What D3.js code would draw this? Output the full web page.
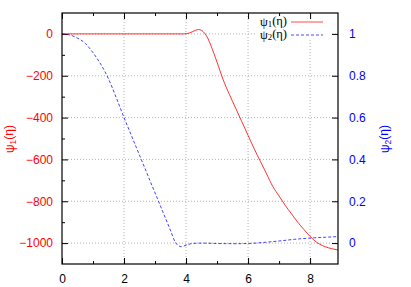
<!DOCTYPE html>
<html>
<head>
<meta charset="utf-8">
<script src="https://cdn.jsdelivr.net/npm/d3@7"></script>
<style>
  body { margin: 0; background: #fff; }
</style>
</head>
<body>
<div id="chart"></div>
<script>
var width = 411;
var height = 287;

// data
var eta1 = [0, 3.9, 4.0, 4.1, 4.2, 4.3, 4.4, 4.5, 4.6, 4.7, 4.8, 5.0, 5.2, 5.4, 5.6, 5.8, 6.0, 6.2, 6.4, 6.6, 6.8, 7.0, 7.2, 7.4, 7.6, 7.8, 8.0, 8.2, 8.4, 8.6, 8.8, 8.9];
var psi1 = [0, 0, 1, 4, 10, 17, 21, 17, 3, -20, -55, -135, -220, -290, -355, -420, -485, -550, -610, -670, -730, -775, -820, -860, -900, -935, -968, -995, -1012, -1023, -1030, -1033];
var eta2 = [0, 0.25, 0.5, 0.75, 1.0, 1.25, 1.5, 1.75, 2.0, 2.25, 2.5, 2.75, 3.0, 3.25, 3.5, 3.65, 3.75, 3.85, 4.0, 4.2, 4.5, 5.0, 5.5, 6.0, 6.5, 7.0, 7.5, 8.0, 8.5, 8.9];
var psi2 = [1, 0.995, 0.98, 0.955, 0.91, 0.855, 0.785, 0.695, 0.60, 0.51, 0.42, 0.33, 0.24, 0.15, 0.06, 0.005, -0.012, -0.017, -0.01, -0.002, 0, -0.002, -0.003, -0.002, 0.003, 0.01, 0.018, 0.024, 0.028, 0.031];
var xTicks = [0, 2, 4, 6, 8];
var xMinor = [1, 3, 5, 7];
var yTicks = [0, -200, -400, -600, -800, -1000];
var yMinor = [-100, -300, -500, -700, -900];
var y2Ticks = [0, 0.2, 0.4, 0.6, 0.8, 1];

var margin = {left: 62, top: 13, right: 73, bottom: 23};
var w = width - margin.left - margin.right;
var h = height - margin.top - margin.bottom;

var svg = d3.select("#chart").append("svg")
    .attr("width", width)
    .attr("height", height)
    .attr("font-family", "'Liberation Sans', Arial, sans-serif")
    .attr("font-size", "12");

var g = svg.append("g").attr("transform", "translate(" + margin.left + "," + margin.top + ")");

var x = d3.scaleLinear().domain([0, 8.9]).range([0, w]);
var y = d3.scaleLinear().domain([-1100, 100]).range([h, 0]);
var y2 = d3.scaleLinear().domain([-0.1, 1.1]).range([h, 0]);

// grid
g.selectAll(".gx").data(xTicks.slice(1)).enter().append("line")
    .attr("x1", d => x(d)).attr("x2", d => x(d))
    .attr("y1", 0).attr("y2", h)
    .attr("stroke", "#a0a0a0").attr("stroke-width", 0.8)
    .attr("stroke-dasharray", "1,2");
g.selectAll(".gy").data(yTicks).enter().append("line")
    .attr("x1", 0).attr("x2", w)
    .attr("y1", d => y(d)).attr("y2", d => y(d))
    .attr("stroke", "#a0a0a0").attr("stroke-width", 0.8)
    .attr("stroke-dasharray", "1,2");

// legend box hides the grid behind it
g.append("rect").attr("x", 194).attr("y", 1).attr("width", 76).attr("height", 26).attr("fill", "#fff");

function styleAxis(sel, color) {
  sel.select(".domain").remove();
  sel.selectAll(".tick line").attr("stroke", "#000");
  sel.selectAll(".tick text").attr("fill", color)
    .attr("font-family", "'Liberation Sans', Arial, sans-serif").attr("font-size", 12);
}

// bottom axis
g.append("g").attr("transform", "translate(0," + h + ")")
    .call(d3.axisBottom(x).tickValues(xTicks).tickSize(-6).tickPadding(10).tickFormat(d3.format("d")))
    .call(s => styleAxis(s, "#000"));
g.append("g").attr("transform", "translate(0," + h + ")")
    .call(d3.axisBottom(x).tickValues(xMinor).tickSize(-3).tickFormat(""))
    .call(s => styleAxis(s, "#000"));
// top mirror
g.append("g")
    .call(d3.axisTop(x).tickValues(xTicks).tickSize(-6).tickFormat(""))
    .call(s => styleAxis(s, "#000"));
g.append("g")
    .call(d3.axisTop(x).tickValues(xMinor).tickSize(-3).tickFormat(""))
    .call(s => styleAxis(s, "#000"));

// left axis
g.append("g")
    .call(d3.axisLeft(y).tickValues(yTicks).tickSize(-6).tickPadding(9).tickFormat(d3.format("d")))
    .call(s => styleAxis(s, "#ff0000"));
g.append("g")
    .call(d3.axisLeft(y).tickValues(yMinor).tickSize(-3).tickFormat(""))
    .call(s => styleAxis(s, "#ff0000"));

// right axis
g.append("g").attr("transform", "translate(" + w + ",0)")
    .call(d3.axisRight(y2).tickValues(y2Ticks).tickSize(-6).tickPadding(11).tickFormat(d3.format("~g")))
    .call(s => styleAxis(s, "#0000ff"));

// curves
var line1 = d3.line().x((d, i) => x(eta1[i])).y(d => y(d)).curve(d3.curveMonotoneX);
var line2 = d3.line().x((d, i) => x(eta2[i])).y(d => y2(d)).curve(d3.curveMonotoneX);

g.append("path").datum(psi2).attr("d", line2)
    .attr("fill", "none").attr("stroke", "#0000ff").attr("stroke-width", 1)
    .attr("stroke-dasharray", "3,2").attr("opacity", 0.75);
g.append("path").datum(psi1).attr("d", line1)
    .attr("fill", "none").attr("stroke", "#ff0000").attr("stroke-width", 1).attr("opacity", 0.8);

// border
g.append("rect").attr("width", w).attr("height", h)
    .attr("fill", "none").attr("stroke", "#000").attr("stroke-width", 1.2);

// label helper: psi with subscript
function psiLabel(sel, sub) {
  sel.append("tspan").text("\u03c8");
  sel.append("tspan").attr("font-size", "0.7em").attr("dy", "0.2em").text(sub);
  sel.append("tspan").attr("dy", "-0.2em").text("(\u03b7)");
}

// legend
var legend = svg.append("g").attr("font-family", "'Liberation Serif', 'Times New Roman', serif").attr("font-size", 12.5);
[{sub: "1", color: "#ff0000", dash: null, y: 22},
 {sub: "2", color: "#0000ff", dash: "3,2", y: 35}].forEach(function(d) {
  legend.append("text").attr("x", 287).attr("y", d.y + 3.5).attr("text-anchor", "end")
      .call(psiLabel, d.sub);
  legend.append("line").attr("x1", 291).attr("x2", 323).attr("y1", d.y).attr("y2", d.y)
      .attr("stroke", d.color).attr("stroke-width", 1).attr("opacity", 0.7)
      .attr("stroke-dasharray", d.dash);
});

// axis titles
svg.append("text").attr("transform", "translate(14,139) rotate(-90)")
    .attr("text-anchor", "middle").attr("fill", "#ff0000")
    .call(psiLabel, "1");
svg.append("text").attr("transform", "translate(389,139) rotate(-90)")
    .attr("text-anchor", "middle").attr("fill", "#0000ff")
    .call(psiLabel, "2");
</script>
</body>
</html>
